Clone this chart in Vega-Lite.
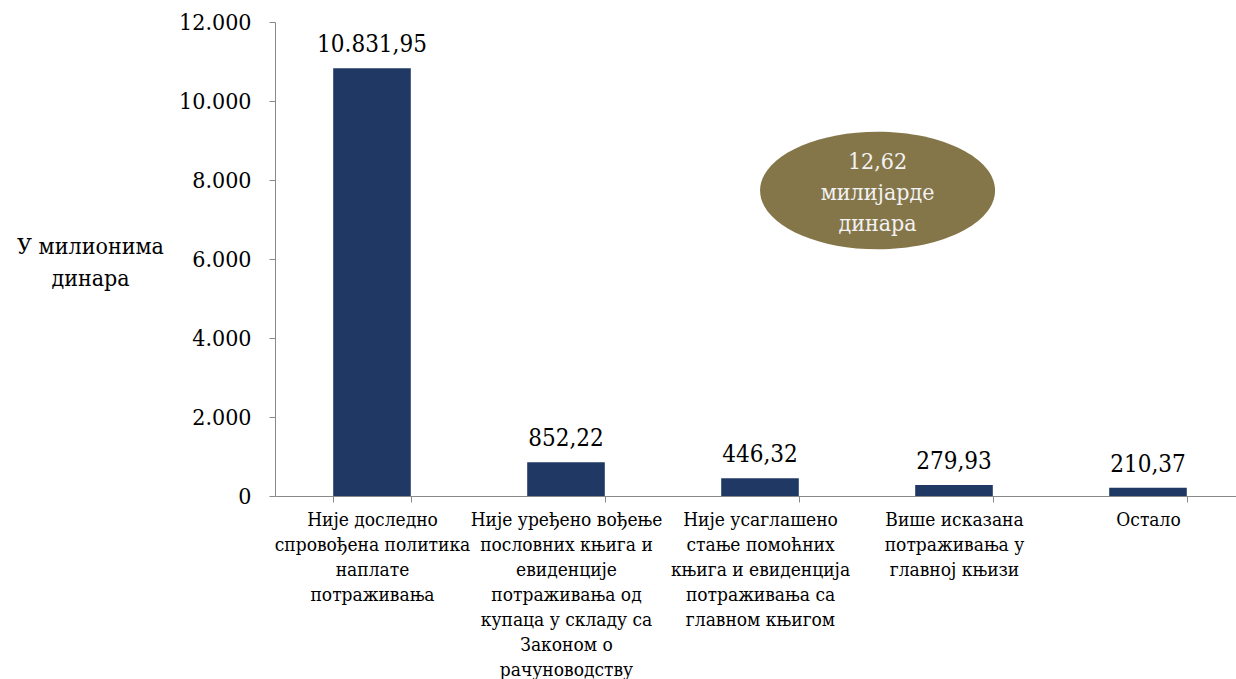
{
  "$schema": "https://vega.github.io/schema/vega-lite/v6.json",
  "autosize": {"type": "none"},
  "width": 961,
  "height": 474,
  "padding": {"left": 275, "top": 22, "right": 0, "bottom": 183},
  "background": "white",
  "config": {
    "locale": {"number": {"decimal": ",", "thousands": ".", "grouping": [3], "currency": ["", ""]}},
    "view": {"stroke": null},
    "font": "'DejaVu Serif Condensed', 'DejaVu Serif'",
    "axis": {"labelFont": "'DejaVu Serif Condensed', 'DejaVu Serif'", "titleFont": "'DejaVu Serif Condensed', 'DejaVu Serif'"},
    "text": {"font": "'DejaVu Serif Condensed', 'DejaVu Serif'"}
  },
  "datasets": {
    "bars": [
      {"cat": "Није доследно\nспровођена политика\nнаплате\nпотраживања", "value": 10831.95},
      {"cat": "Није уређено вођење\nпословних књига и\nевиденције\nпотраживања од\nкупаца у складу са\nЗаконом о\nрачуноводству", "value": 852.22},
      {"cat": "Није усаглашено\nстање помоћних\nкњига и евиденција\nпотраживања са\nглавном књигом", "value": 446.32},
      {"cat": "Више исказана\nпотраживања у\nглавној књизи", "value": 279.93},
      {"cat": "Остало", "value": 210.37}
    ],
    "note": [
      {"note": "12,62\nмилијарде\nдинара"}
    ]
  },
  "layer": [
    {
      "data": {"name": "bars"},
      "encoding": {
        "x": {
          "field": "cat",
          "type": "nominal",
          "sort": null,
          "scale": {"range": [0, 970], "paddingInner": 0.6, "paddingOuter": 0.3},
          "axis": {
            "title": null,
            "labelAngle": 0,
            "labelFontSize": 19,
            "labelColor": "black",
            "labelLineHeight": 25,
            "labelLimit": 0,
            "labelOverlap": false,
            "labelBound": false,
            "labelExpr": "split(datum.label, '\\n')",
            "tickBand": "extent",
            "tickSize": 6,
            "labelPadding": 8,
            "domainColor": "#898989",
            "tickColor": "#898989",
            "grid": false
          }
        },
        "y": {
          "field": "value",
          "type": "quantitative",
          "scale": {"domain": [0, 12000], "nice": false},
          "axis": {
            "values": [0, 2000, 4000, 6000, 8000, 10000, 12000],
            "format": ",.0f",
            "grid": false,
            "labelFontSize": 23,
            "labelColor": "black",
            "labelPadding": 18,
            "tickSize": 6,
            "domainColor": "#898989",
            "tickColor": "#898989",
            "title": ["У милионима", "динара"],
            "titleAngle": 0,
            "titleFontSize": 23,
            "titleFontWeight": "normal",
            "titleColor": "black",
            "titleX": -185,
            "titleY": 231,
            "titleAlign": "center",
            "titleBaseline": "alphabetic",
            "titleLineHeight": 32
          }
        }
      },
      "layer": [
        {"mark": {"type": "bar", "color": "#1f3864"}},
        {
          "mark": {"type": "text", "baseline": "alphabetic", "dy": -16, "fontSize": 24, "color": "black"},
          "encoding": {"text": {"field": "value", "type": "quantitative", "format": ",.2f"}}
        }
      ]
    },
    {
      "data": {"name": "note"},
      "encoding": {
        "x": {"datum": 3.106, "type": "quantitative", "scale": {"domain": [0, 5], "range": [0, 970], "nice": false, "zero": false}, "axis": null},
        "y": {"datum": 7734, "type": "quantitative"}
      },
      "layer": [
        {
          "mark": {
            "type": "point",
            "filled": true,
            "opacity": 1,
            "color": "#85764a",
            "shape": "M -1 0 A 1 0.5 0 1 1 1 0 A 1 0.5 0 1 1 -1 0 Z",
            "size": 55225
          }
        },
        {
          "mark": {"type": "text", "baseline": "middle", "align": "center", "lineBreak": "\n", "lineHeight": 31, "fontSize": 23, "color": "#f2f2f2", "dy": -29},
          "encoding": {"text": {"field": "note", "type": "nominal"}}
        }
      ]
    }
  ],
  "resolve": {"scale": {"x": "independent"}}
}
